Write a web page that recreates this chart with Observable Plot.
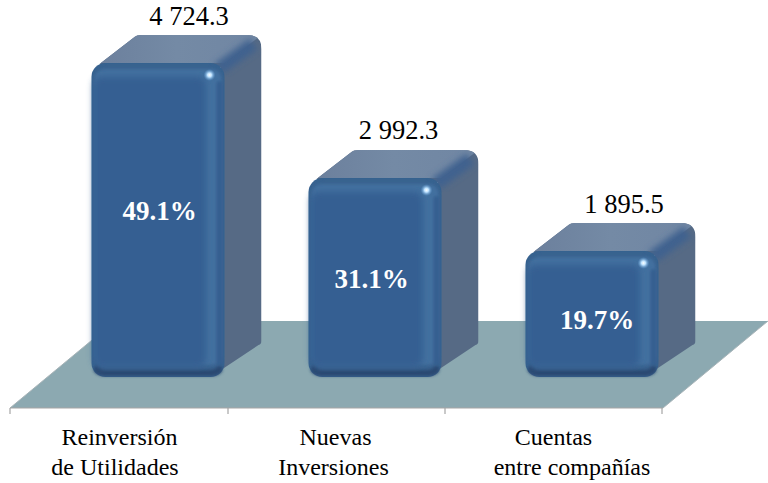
<!DOCTYPE html>
<html>
<head>
<meta charset="utf-8">
<script src="https://cdn.jsdelivr.net/npm/d3@7"></script>
<script src="https://cdn.jsdelivr.net/npm/@observablehq/plot@0.6"></script>
<style>
html,body{margin:0;padding:0;background:#fff}
svg{display:block;font-family:"Liberation Serif","Times New Roman",serif}
</style>
</head>
<body>
<div id="chart"></div>
<script>
const categories = ["Reinversión de Utilidades", "Nuevas Inversiones", "Cuentas entre compañías"];
const values = [4724.3, 2992.3, 1895.5];
const valueLabels = ["4 724.3", "2 992.3", "1 895.5"];
const shares = ["49.1%", "31.1%", "19.7%"];
const labelLine1 = ["Reinversión", "Nuevas", "Cuentas"];
const labelLine2 = ["de Utilidades", "Inversiones", "entre compañías"];

const data = categories.map((c, i) => ({
  c, v: values[i], label: valueLabels[i], share: shares[i], l1: labelLine1[i], l2: labelLine2[i]
}));

// pixel styling of the pseudo-3D look and label nudges
const INSET_L = 80.5, INSET_R = 3.5, RX = 14;
const DX = 37, DY = -28;          // bar depth
const FDX = 105, FDY = -87, FDROP = 31; // floor depth
const valueNudge = [[69, -47], [61.5, -48], [70, -47]];
const shareNudge = [[39.5, -9], [34.5, 1], [43, 6]];
const line1Nudge = [-0.5, -1.5, -0.5];
const line2Nudge = [-5, -3.5, 18];

function geom(d, s) {
  const x0 = s.x(d.c) + INSET_L, x1 = s.x(d.c) + s.x.bandwidth() - INSET_R;
  return {x0, x1, y0: s.y(d.v), y1: s.y(0)};
}

const defsMark = () => d3.create("svg:defs").html(`
  <filter id="b1" x="-30%" y="-30%" width="160%" height="160%"><feGaussianBlur stdDeviation="1.6"/></filter>
  <filter id="b3" x="-30%" y="-30%" width="160%" height="160%"><feGaussianBlur stdDeviation="3"/></filter>
  <radialGradient id="spot"><stop offset="0" stop-color="#fff"/><stop offset=".35" stop-color="#bfe3ff"/><stop offset="1" stop-color="#5f9bd6" stop-opacity="0"/></radialGradient>
  <linearGradient id="topFace" x1="0" x2="1" y1="0" y2="0"><stop offset="0" stop-color="#6b7f9c"/><stop offset=".5" stop-color="#748aa5"/><stop offset="1" stop-color="#7086a3"/></linearGradient>
`).node();

const floorMark = (index, {x, y}) => {
  const [a, b] = x.range();
  const yb = y(0) + FDROP;
  const g = d3.create("svg:g");
  g.append("path")
    .attr("d", `M${a},${yb}L${b},${yb}L${b + FDX},${yb + FDY}L${a + FDX},${yb + FDY}Z`)
    .attr("fill", "#8ca9b1");
  g.append("path")
    .attr("d", `M${a},${yb}L${a + FDX},${yb + FDY}M${b},${yb}L${b + FDX},${yb + FDY}`)
    .attr("stroke", "#a8b4b8").attr("fill", "none");
  const edges = [a, ...x.domain().map(c => x(c) + x.bandwidth())];
  g.append("path")
    .attr("d", `M${a},${yb}H${b}` + edges.map(e => `M${e},${yb}v6`).join(""))
    .attr("stroke", "#a6a6a6").attr("stroke-width", 1.2).attr("fill", "none");
  return g.node();
};

const backMark = (index, scales) => {
  const g = d3.create("svg:g");
  data.forEach((d, i) => {
    const {x0, x1, y0, y1} = geom(d, scales);
    const r = RX;
    const xr = x1 + DX, yt = y0 + DY;
    const sil = `M${x0 + 8},${y0 + 1}L${x0 + DX + 6},${yt + 2}Q${x0 + DX + 8},${yt} ${x0 + DX + 13},${yt}` +
      `L${xr - r},${yt}Q${xr},${yt} ${xr},${yt + r}L${xr},${y1 - 36}Q${xr},${y1 - 33} ${xr - 3},${y1 - 32}L${x1 - 2},${y1 - 8}L${x1 - 4},${y0 + 4}Z`;
    const id = "sil" + i;
    g.append("clipPath").attr("id", id).append("path").attr("d", sil);
    const c = g.append("g").attr("clip-path", `url(#${id})`);
    c.append("rect").attr("x", x0).attr("y", yt).attr("width", xr - x0).attr("height", y1 - yt).attr("fill", "#566a85");
    c.append("path").attr("d", `M${x0},${y0}L${x0 + DX},${yt}L${xr},${yt}L${x1},${y0}Z`).attr("fill", "url(#topFace)");
    c.append("path").attr("d", `M${x1 - 6},${y0 + 6}L${xr - 8},${yt + 9}`)
      .attr("stroke", "#3f628f").attr("stroke-width", 13).attr("fill", "none").attr("filter", "url(#b3)");
    c.append("path").attr("d", `M${xr - 4},${yt + 8}V${yt + 42}`)
      .attr("stroke", "#456890").attr("stroke-width", 7).attr("fill", "none").attr("filter", "url(#b3)");
  });
  return g.node();
};

const bevelMark = (index, scales) => {
  const g = d3.create("svg:g");
  const rect = (x, y, w, h, rx, fill, filter) => {
    const e = g.append("rect").attr("x", x).attr("y", y).attr("width", w).attr("height", h).attr("rx", rx).attr("fill", fill);
    if (filter) e.attr("filter", `url(#${filter})`);
  };
  data.forEach(d => {
    const {x0, x1, y0, y1} = geom(d, scales);
    const w = x1 - x0, h = y1 - y0;
    // dark lower lip, lighter ridge along the top and right, flat body
    rect(x0 + 2, y1 - 14, w - 4, 13, 11, "#2b4a72", "b1");
    rect(x0 + 3, y0 + 3, w - 6, h - 10, 12, "#37628f", "b1");
    rect(x0 + 3, y0 + 6, w - 6, h - 18, 10, "#426f9f", "b1");
    rect(x0 + 2, y0 + 14, w - 21, h - 24, 8, "#345e92", "b3");
    rect(x1 - 8, y0 + 18, 6, h - 30, 3, "#365f90", "b1");
    g.append("circle").attr("cx", x1 - 15).attr("cy", y0 + 12).attr("r", 6).attr("fill", "url(#spot)");
  });
  return g.node();
};

const serif = "Liberation Serif";
const labelText = (text, size, extra) => Plot.text(extra.rows, {
  x: "c", y: extra.y, text, fontFamily: serif, fontSize: size, fill: extra.fill || "#000",
  fontWeight: extra.weight || "normal", dx: extra.dx, dy: extra.dy
});

const chart = Plot.plot({
  width: 768,
  height: 483,
  margin: 0,
  x: {domain: categories, range: [10, 663], padding: 0, axis: null},
  y: {domain: [0, 4724.3], range: [377, 63], axis: null},
  marks: [
    defsMark,
    floorMark,
    backMark,
    Plot.barY(data, {x: "c", y: "v", insetLeft: INSET_L, insetRight: INSET_R, rx: RX, fill: "#37628f"}),
    bevelMark,
    data.map((d, i) => labelText("share", 27, {rows: [d], y: r => r.v / 2, fill: "#fff", weight: "bold", dx: shareNudge[i][0], dy: shareNudge[i][1]})),
    data.map((d, i) => labelText("label", 26.5, {rows: [d], y: "v", dx: valueNudge[i][0], dy: valueNudge[i][1]})),
    data.map((d, i) => labelText("l1", 24, {rows: [d], y: () => 0, dx: line1Nudge[i], dy: 60})),
    data.map((d, i) => labelText("l2", 24, {rows: [d], y: () => 0, dx: line2Nudge[i], dy: 90})),
  ]
});
document.getElementById("chart").append(chart);
</script>
</body>
</html>
